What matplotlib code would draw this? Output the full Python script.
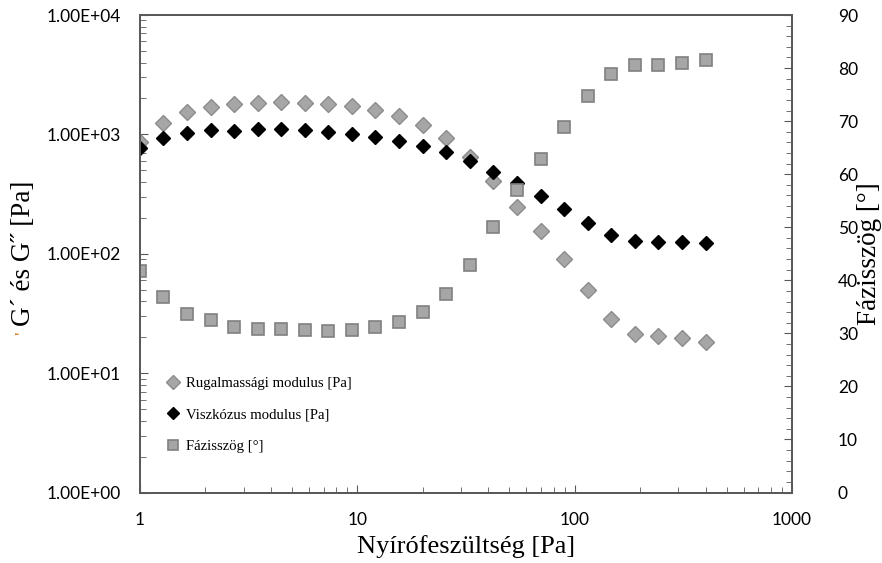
import numpy as np
import matplotlib
matplotlib.use("Agg")
import matplotlib.pyplot as plt
from matplotlib.ticker import FuncFormatter, LogLocator, MultipleLocator, NullFormatter

# mérési adatok
nyiro = [1.00, 1.28, 1.65, 2.12, 2.72, 3.48, 4.47, 5.73, 7.36, 9.45, 12.1, 15.6, 20.0,
         25.6, 33.0, 42.3, 54.3, 69.8, 89.4, 115, 147, 189, 242, 312, 400]
rugalmassagi = [867, 1250, 1546, 1703, 1783, 1840, 1865, 1840, 1794, 1716, 1589, 1415, 1203,
                926, 649, 404, 248, 156, 90.8, 49.4, 28.2, 21.3, 20.4, 19.8, 18.1]
viszkozus = [764, 931, 1019, 1080, 1072, 1101, 1108, 1080, 1045, 1006, 955, 879, 803,
             711, 601, 483, 389, 304, 235, 182, 144, 128.5, 124.5, 124.5, 123]
fazisszog = [41.7, 36.9, 33.6, 32.6, 31.2, 30.9, 30.9, 30.6, 30.5, 30.6, 31.2, 32.1, 34.0,
             37.4, 42.9, 50.1, 57.0, 62.9, 68.9, 74.7, 78.9, 80.5, 80.5, 80.9, 81.6]

serif = "Liberation Serif"
sans = "Lato"
spine_c = "#595959"

fig = plt.figure(figsize=(8.82, 5.63), dpi=100)
ax = fig.add_axes([140 / 882, 70.5 / 563, 652 / 882, 477.5 / 563])
ax2 = ax.twinx()

l1, = ax.plot(nyiro, rugalmassagi, linestyle="none", marker="D", markersize=8.2,
              markerfacecolor="#a6a6a6", markeredgecolor="#8c8c8c", markeredgewidth=1,
              label="Rugalmassági modulus [Pa]")
l2, = ax.plot(nyiro, viszkozus, linestyle="none", marker="D", markersize=7,
              markerfacecolor="black", markeredgecolor="black",
              label="Viszkózus modulus [Pa]")
l3, = ax2.plot(nyiro, fazisszog, linestyle="none", marker="s", markersize=8,
               markerfacecolor="#a6a6a6", markeredgecolor="#808080", markeredgewidth=1.2,
               label="Fázisszög [°]")

ax.set_xscale("log")
ax.set_yscale("log")
ax.set_xlim(1, 1000)
ax.set_ylim(1, 1e4)
ax2.set_ylim(0, 90)

ax.xaxis.set_major_locator(LogLocator(base=10))
ax.xaxis.set_minor_locator(LogLocator(base=10, subs=np.arange(2, 10)))
ax.xaxis.set_minor_formatter(NullFormatter())
ax.xaxis.set_major_formatter(FuncFormatter(lambda v, p: f"{v:g}"))
ax.yaxis.set_major_locator(LogLocator(base=10))
ax.yaxis.set_minor_locator(LogLocator(base=10, subs=np.arange(2, 10)))
ax.yaxis.set_minor_formatter(NullFormatter())
ax.yaxis.set_major_formatter(FuncFormatter(lambda v, p: f"{v:.2E}"))
ax2.yaxis.set_major_locator(MultipleLocator(10))
ax2.yaxis.set_minor_locator(MultipleLocator(2))

for a in (ax, ax2):
    for s in a.spines.values():
        s.set_color(spine_c)
        s.set_linewidth(1.3)

ax.tick_params(axis="x", which="both", direction="in", top=False, colors=spine_c,
               labelcolor="black", labelsize=12.5, pad=14)
ax.tick_params(axis="x", which="major", length=6)
ax.tick_params(axis="x", which="minor", length=4)
ax.tick_params(axis="y", which="both", direction="in", right=False, colors=spine_c,
               labelcolor="black", labelsize=12.5, pad=14)
ax.tick_params(axis="y", which="major", length=6)
ax.tick_params(axis="y", which="minor", length=4)
ax2.tick_params(axis="y", which="both", direction="in", colors=spine_c,
                labelcolor="black", labelsize=12.5, pad=33)
ax2.tick_params(axis="y", which="major", length=6)
ax2.tick_params(axis="y", which="minor", length=4)

for lab in ax.get_xticklabels() + ax.get_yticklabels() + ax2.get_yticklabels():
    lab.set_fontfamily(sans)
for lab in ax2.get_yticklabels():
    lab.set_horizontalalignment("left")

ax.set_xlabel("Nyírófeszültség [Pa]", fontfamily=serif, fontsize=19, va="center")
ax.set_ylabel("G´ és G˝ [Pa]", fontfamily=serif, fontsize=19.5, va="center")
ax2.set_ylabel("Fázisszög [°]", fontfamily=serif, fontsize=19.5, va="center",
               rotation=90)
ax.xaxis.set_label_coords(0.5, -0.113)
ax.yaxis.set_label_coords(-0.178, 0.5)
ax2.yaxis.set_label_coords(1.1185, 0.5)
fig.text(24 / 882, 1 - 333 / 563, "'", color="#d07a20", fontfamily=serif, fontsize=14,
         rotation=90, ha="center", va="center")

ax2.legend(handles=[l1, l2, l3], loc="upper left", bbox_to_anchor=(0.03, 0.255),
           frameon=False, prop={"family": serif, "size": 10.6}, labelspacing=1.25,
           handletextpad=0.4, handlelength=1.0, borderaxespad=0, markerscale=0.85)

fig.savefig("out.png", dpi=100)
